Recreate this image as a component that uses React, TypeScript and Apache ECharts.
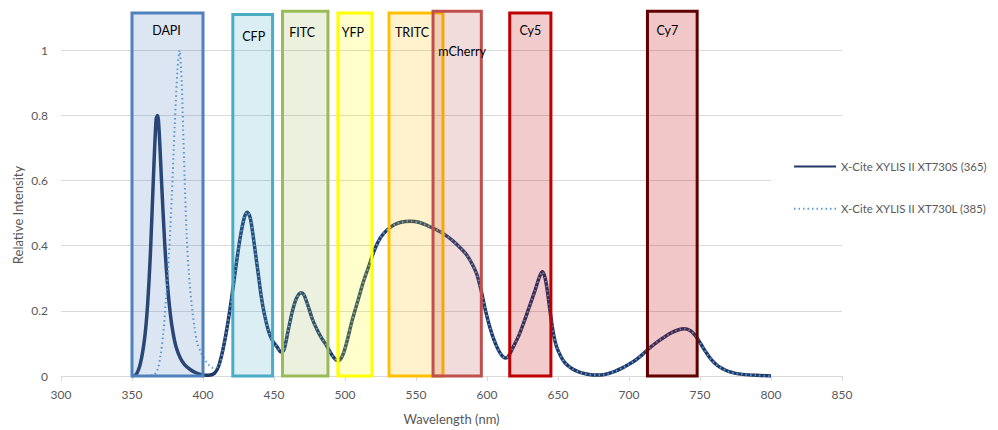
import React, { useEffect, useRef } from "react";
import * as echarts from "echarts";

// ---- data ----
const solidHeadWl = [350, 353, 356, 359, 361, 363, 365, 367, 368, 369, 371, 373, 375, 377, 379, 381, 384, 387, 391, 395, 400, 404, 408];
const solidHeadVal = [0, 0.005, 0.04, 0.12, 0.22, 0.38, 0.6, 0.79, 0.8, 0.76, 0.58, 0.41, 0.28, 0.19, 0.13, 0.09, 0.055, 0.035, 0.02, 0.01, 0.003, 0.002, 0.008];

const dottedHeadWl = [360, 365, 368, 370, 372, 374, 376, 378, 380, 382, 383.5, 385, 386, 387, 388.5, 390, 392, 394, 396, 398, 400, 403, 407];
const dottedHeadVal = [0, 0.002, 0.02, 0.06, 0.13, 0.24, 0.37, 0.55, 0.76, 0.94, 1.0, 0.9, 0.76, 0.62, 0.43, 0.32, 0.22, 0.15, 0.1, 0.078, 0.06, 0.04, 0.025];

const tailWl = [411, 414, 417, 420, 423, 426, 429, 431, 433, 435, 437, 439, 441, 443, 446, 449, 452, 455, 457, 460, 463, 466, 469, 471, 474, 477, 480, 483, 486, 489, 492, 495, 498, 501, 505, 509, 513, 517, 521, 525, 530, 535, 540, 546, 552, 558, 564, 570, 576, 582, 586, 590, 593, 596, 599, 602, 605, 608, 611, 613, 615, 618, 622, 626, 630, 634, 637, 639, 641, 643, 645, 647, 649, 652, 655, 660, 665, 670, 675, 680, 685, 690, 695, 700, 705, 710, 715, 720, 725, 730, 735, 739, 743, 746, 749, 752, 755, 758, 762, 766, 770, 775, 780, 790, 800];
const tailVal = [0.03, 0.08, 0.15, 0.235, 0.33, 0.42, 0.485, 0.503, 0.49, 0.44, 0.375, 0.31, 0.245, 0.195, 0.14, 0.108, 0.09, 0.074, 0.08, 0.14, 0.2, 0.24, 0.256, 0.25, 0.215, 0.175, 0.145, 0.12, 0.1, 0.078, 0.057, 0.047, 0.06, 0.1, 0.17, 0.23, 0.29, 0.34, 0.39, 0.425, 0.45, 0.465, 0.473, 0.475, 0.472, 0.462, 0.45, 0.435, 0.415, 0.39, 0.37, 0.34, 0.31, 0.26, 0.2, 0.15, 0.11, 0.08, 0.06, 0.055, 0.06, 0.085, 0.12, 0.165, 0.215, 0.265, 0.305, 0.32, 0.3, 0.245, 0.18, 0.125, 0.09, 0.06, 0.04, 0.022, 0.012, 0.006, 0.003, 0.003, 0.007, 0.014, 0.024, 0.036, 0.05, 0.068, 0.088, 0.105, 0.12, 0.133, 0.142, 0.145, 0.14, 0.128, 0.11, 0.088, 0.068, 0.05, 0.033, 0.022, 0.014, 0.008, 0.005, 0.002, 0];

const seriesNames = ["X-Cite XYLIS II XT730S (365)", "X-Cite XYLIS II XT730L (385)"];

const filterNames = ["DAPI", "CFP", "FITC", "YFP", "TRITC", "mCherry", "Cy5", "Cy7"];
const filterStart = [350, 421, 456, 495, 531, 562, 616, 713];
const filterEnd = [400, 449, 488, 519, 569, 596, 645, 748];
const filterTop = [1.115, 1.11, 1.12, 1.115, 1.115, 1.12, 1.115, 1.12];

const filterBorder = ["#4f81bd", "#4bacc6", "#9bbb59", "#ffff00", "#ffc000", "#c0504d", "#c00000", "#600000"];
const filterFill = [
  "rgba(79,129,189,0.2)",
  "rgba(75,172,198,0.2)",
  "rgba(155,187,89,0.2)",
  "rgba(255,255,0,0.2)",
  "rgba(255,192,0,0.2)",
  "rgba(192,80,77,0.2)",
  "rgba(192,0,0,0.2)",
  "rgba(192,0,0,0.22)",
];
const labelDy = [19, 23, 23, 21, 21, 42, 19, 21];
const labelDx = [-1, 1, -3, -2, -4, 5, 0, -5];

const FONT = "Lato, 'Open Sans', sans-serif";

function pairs(wl: number[], val: number[]) {
  return wl.map((w, i) => [w, val[i]]);
}

export default function App() {
  const ref = useRef<HTMLDivElement>(null);
  useEffect(() => {
    if (!ref.current) return;
    document.body.style.margin = "0";
    const chart = echarts.init(ref.current, undefined, { renderer: "svg" });
    const solidData = pairs(solidHeadWl, solidHeadVal).concat(pairs(tailWl, tailVal));
    const dottedData = pairs(dottedHeadWl, dottedHeadVal).concat(pairs(tailWl, tailVal));

    const areaData = filterNames.map((n, i) => [
      {
        name: n,
        xAxis: filterStart[i],
        yAxis: 0,
        itemStyle: { color: filterFill[i], borderColor: filterBorder[i], borderWidth: 3 },
        label: {
          show: true,
          position: ["50%", labelDy[i]],
          offset: [labelDx[i], 0],
          align: "center",
          verticalAlign: "middle",
          color: "#000",
          fontSize: 12.5,
          fontFamily: FONT,
        },
      },
      { xAxis: filterEnd[i], yAxis: filterTop[i] },
    ]);

    chart.setOption({
      animation: false,
      grid: { left: 61, right: 156, top: 8, bottom: 51 },
      legend: {
        data: seriesNames,
        orient: "vertical",
        left: 771,
        top: 150,
        padding: [11, 5, 20, 22],
        itemGap: 31,
        itemWidth: 42,
        itemHeight: 14,
        backgroundColor: "#fff",
        itemStyle: { opacity: 0 },
        textStyle: { color: "#595959", fontSize: 11.4, fontFamily: FONT },
      },
      xAxis: {
        type: "value",
        min: 300,
        max: 850,
        interval: 50,
        axisLine: { lineStyle: { color: "#d9d9d9" } },
        axisTick: { show: true, length: 5, lineStyle: { color: "#d9d9d9" } },
        splitLine: { show: false },
        axisLabel: { color: "#595959", fontSize: 12, margin: 12, fontFamily: FONT },
        name: "Wavelength (nm)",
        nameLocation: "middle",
        nameGap: 36,
        nameTextStyle: { color: "#595959", fontSize: 13, fontFamily: FONT },
      },
      yAxis: {
        type: "value",
        min: 0,
        max: 1.13,
        interval: 0.2,
        axisLine: { show: false },
        axisTick: { show: false },
        splitLine: { show: true, showMaxLine: false, lineStyle: { color: "#d9d9d9" } },
        axisLabel: {
          color: "#595959",
          fontSize: 12,
          margin: 13,
          fontFamily: FONT,
          showMaxLabel: false,
          formatter: (v: number) => String(Math.round(v * 10) / 10),
        },
      },
      graphic: [
        {
          type: "text",
          x: 18,
          y: 215,
          rotation: Math.PI / 2,
          style: {
            text: "Relative Intensity",
            align: "center",
            verticalAlign: "middle",
            fill: "#595959",
            fontSize: 13,
            fontFamily: FONT,
          },
        },
      ],
      series: [
        {
          name: seriesNames[0],
          type: "line",
          data: solidData,
          symbol: "none",
          smooth: 0.3,
          z: 2,
          lineStyle: { color: "#1f3864", width: 3.5 },
          itemStyle: { color: "#1f3864" },
        },
        {
          name: seriesNames[1],
          type: "line",
          data: dottedData,
          symbol: "none",
          smooth: 0.3,
          z: 3,
          lineStyle: { color: "#5b9bd5", width: 2, type: [1.5, 3] },
          itemStyle: { color: "#5b9bd5" },
        },
        {
          name: "filters",
          type: "line",
          data: [],
          z: 5,
          markArea: {
            silent: true,
            z: 5,
            data: areaData,
          },
        },
      ],
    });
    return () => chart.dispose();
  }, []);
  return <div ref={ref} style={{ width: 998, height: 430 }} />;
}
